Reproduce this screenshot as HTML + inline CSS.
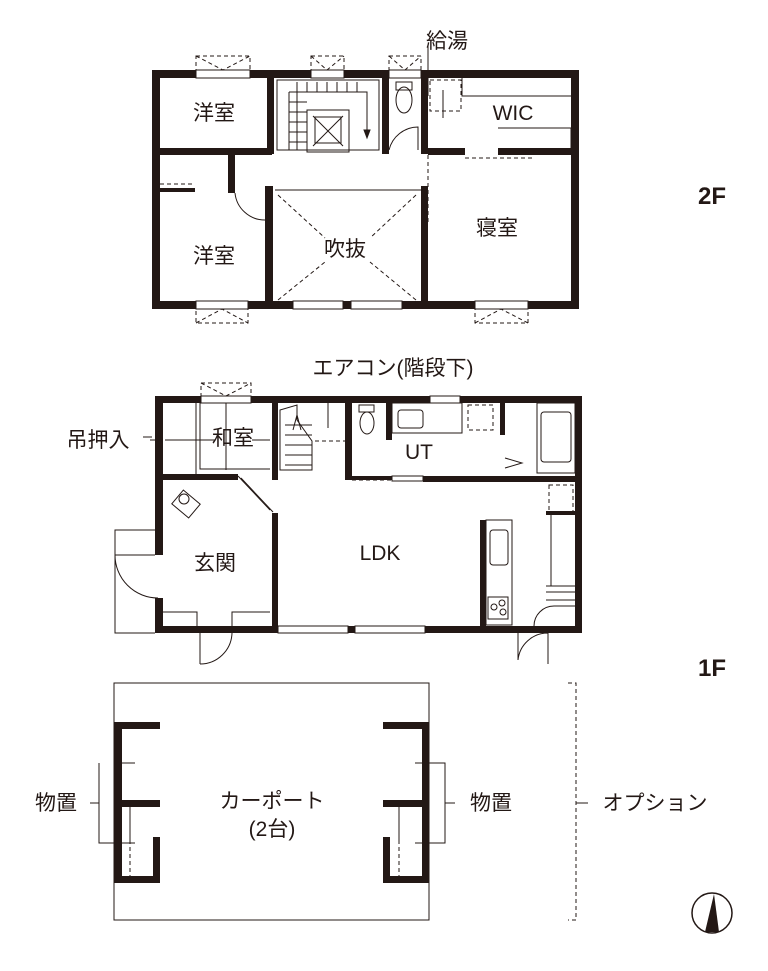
<!DOCTYPE html>
<html><head><meta charset="utf-8"><style>
html,body{margin:0;padding:0;background:#fff}
svg{display:block}
text{font-family:"Liberation Sans","Noto Sans CJK JP",sans-serif;fill:#231815}
</style></head><body>
<svg width="768" height="971" viewBox="0 0 768 971" xmlns="http://www.w3.org/2000/svg">
<g fill="#231815" stroke="none">
<rect x="152" y="70" width="427" height="8"/>
<rect x="152" y="70" width="8" height="239"/>
<rect x="571" y="70" width="8" height="239"/>
<rect x="152" y="301" width="427" height="8"/>
<rect x="267" y="70" width="7" height="84"/>
<rect x="382" y="70" width="7" height="84"/>
<rect x="421" y="70" width="7" height="84"/>
<rect x="152" y="148" width="120" height="7"/>
<rect x="228" y="150" width="7" height="43"/>
<rect x="160" y="188" width="35" height="4"/>
<rect x="265" y="186" width="8" height="120"/>
<rect x="421" y="186" width="7" height="120"/>
<rect x="428" y="148" width="37" height="7"/>
<rect x="498" y="148" width="81" height="7"/>
<rect x="155" y="396" width="427" height="7"/>
<rect x="155" y="396" width="8" height="159"/>
<rect x="155" y="598" width="8" height="35"/>
<rect x="575" y="396" width="7" height="237"/>
<rect x="155" y="626" width="427" height="7"/>
<rect x="155" y="474" width="83" height="6"/>
<rect x="272" y="396" width="6" height="84"/>
<rect x="272" y="513" width="6" height="120"/>
<rect x="345" y="396" width="7" height="84"/>
<rect x="386" y="396" width="6" height="44"/>
<rect x="345" y="476" width="47" height="4"/>
<rect x="423" y="476" width="159" height="6"/>
<rect x="500" y="400" width="5" height="35"/>
<rect x="546" y="511" width="29" height="4"/>
<rect x="480" y="520" width="6" height="110"/>
<rect x="114" y="722" width="8" height="161"/>
<rect x="114" y="722" width="46" height="7"/>
<rect x="114" y="800" width="46" height="7"/>
<rect x="114" y="876" width="46" height="7"/>
<rect x="153" y="837" width="7" height="46"/>
<rect x="422" y="722" width="7" height="161"/>
<rect x="383" y="722" width="46" height="7"/>
<rect x="383" y="800" width="46" height="7"/>
<rect x="383" y="876" width="46" height="7"/>
<rect x="383" y="837" width="7" height="46"/>
</g>
<g fill="#fff" stroke="#231815" stroke-width="1">
<rect x="196" y="70" width="54" height="8"/>
<rect x="311" y="70" width="33" height="8"/>
<rect x="389" y="70" width="32" height="8"/>
<rect x="196" y="301" width="52" height="8"/>
<rect x="293" y="301" width="50" height="8"/>
<rect x="351" y="301" width="51" height="8"/>
<rect x="475" y="301" width="53" height="8"/>
<rect x="201" y="396" width="50" height="7"/>
<rect x="430" y="396" width="30" height="7"/>
<rect x="278" y="626" width="70" height="7"/>
<rect x="355" y="626" width="70" height="7"/>
</g>
<g fill="none" stroke="#231815" stroke-width="1" stroke-dasharray="4,3">
<rect x="196" y="56" width="54" height="14"/>
<path d="M196 56L223 70L250 56"/>
<rect x="311" y="56" width="33" height="14"/>
<path d="M311 56L327 70L344 56"/>
<rect x="389" y="56" width="32" height="14"/>
<path d="M389 56L405 70L421 56"/>
<rect x="196" y="309" width="52" height="14"/>
<path d="M196 323L222 309L248 323"/>
<rect x="475" y="309" width="53" height="14"/>
<path d="M475 323L501 309L528 323"/>
<rect x="430" y="80" width="31" height="31"/>
<path d="M160 184H195M465 158H535M428 155V225"/>
<path d="M278 195L325 238M416 195L370 238M278 300L325 262M416 300L370 262"/>
<rect x="201" y="383" width="50" height="13"/>
<path d="M201 383L226 396L251 383"/>
<rect x="468" y="405" width="25" height="25"/>
<rect x="549" y="485" width="24" height="27"/>
<path d="M315 441H347M352 480H392M200 469H270"/>
<path d="M130 840V876M399 840V876"/>
</g>
<g fill="none" stroke="#231815" stroke-width="1">
<rect x="277" y="80" width="102" height="70"/>
<rect x="307" y="110" width="42" height="42"/>
<path d="M313 116L343 146M343 116L313 146"/>
<rect x="315" y="117" width="26" height="26"/>
<path d="M289 92H367V135M289 92V150M297 82V150"/>
<path d="M289 102H307M289 112H307M289 122H307M289 132H307M289 142H307"/>
<path d="M307 82V92M317 82V92M327 82V92M337 82V92M347 82V92M357 82V92"/>
<path d="M364 130L367 138L370 130Z" fill="#231815"/>
<path d="M275 190H421M273 98V150"/>
<ellipse cx="404" cy="100" rx="8" ry="13"/>
<rect x="396" y="82" width="16" height="8"/>
<path d="M389 150A30 30 0 0 1 418 127V150"/>
<path d="M462 78V96H571M498 128H571V148"/>
<path d="M443 90V118M428 45V96"/>
<path d="M235 193A30 30 0 0 0 265 220"/>
<path d="M163 440H150M165 440H215M196 403V474M200 403V469H270M197 440H185M252 440H270M226 403V470"/>
<path d="M280 410V470H312V441L297 420V405L280 410Z"/>
<path d="M285 425H312M285 435H312M285 445H312M285 455H312M285 465H312"/>
<path d="M293 430L297 415L301 430" />
<path d="M328 400V428"/>
<ellipse cx="367" cy="423" rx="7" ry="11"/>
<rect x="359" y="405" width="15" height="7"/>
<rect x="392" y="403" width="70" height="30"/>
<rect x="398" y="410" width="25" height="18" rx="3"/>
<rect x="537" y="403" width="38" height="70"/>
<rect x="541" y="412" width="30" height="50" rx="3"/>
<path d="M505 458L522 463L505 468"/>
<rect x="392" y="476" width="31" height="5"/>
<path d="M238 476L270 510"/>
<path d="M241 478L273 512"/>
<rect x="175" y="495" width="22" height="18" transform="rotate(40 186 504)"/>
<circle cx="184" cy="499" r="5"/>
<path d="M155 530H115V633H155M115 555H155"/>
<path d="M115 555A43 43 0 0 0 158 598"/>
<path d="M163 612H197V626M232 626V612H270"/>
<path d="M200 633V664M200 664A32 32 0 0 0 232 633"/>
<rect x="486" y="520" width="26" height="105"/>
<rect x="490" y="530" width="18" height="35" rx="3"/>
<rect x="488" y="597" width="20" height="22"/>
<circle cx="494" cy="607" r="3"/><circle cx="502" cy="603" r="3"/><circle cx="503" cy="612" r="3"/>
<path d="M481 520V590M551 515V586M546 586H575M546 592H575M546 600H575"/>
<path d="M534 626A20 20 0 0 1 554 606H575"/>
<path d="M518 633V660A30 30 0 0 1 548 633V664"/>
<rect x="114" y="683" width="315" height="237"/>
<path d="M122 763H135M122 843H135M130 807V840M99 763V843H122M99 803H90"/>
<path d="M415 763H445V843H415M415 843H445M399 807V840M445 803H455"/>
<path d="M568 683H576V920H568" stroke-dasharray="4,3"/>
<path d="M576 803H588"/>
<path d="M143 437H152"/>
<circle cx="712" cy="913" r="20" stroke-width="1.5"/>
</g>
<path d="M714 894L719 932H705Z" fill="#231815"/>
<g font-size="21">
<text x="214" y="120" text-anchor="middle">洋室</text>
<text x="214" y="263" text-anchor="middle">洋室</text>
<text x="345" y="256" text-anchor="middle">吹抜</text>
<text x="497" y="235" text-anchor="middle">寝室</text>
<text x="513" y="120" text-anchor="middle">WIC</text>
<text x="447" y="48" text-anchor="middle">給湯</text>
<text x="393" y="375" text-anchor="middle">エアコン(階段下)</text>
<text x="233" y="445" text-anchor="middle">和室</text>
<text x="98" y="447" text-anchor="middle">吊押入</text>
<text x="419" y="459" text-anchor="middle">UT</text>
<text x="215" y="570" text-anchor="middle">玄関</text>
<text x="380" y="560" text-anchor="middle">LDK</text>
<text x="56" y="810" text-anchor="middle">物置</text>
<text x="491" y="810" text-anchor="middle">物置</text>
<text x="272" y="808" text-anchor="middle">カーポート</text>
<text x="272" y="836" text-anchor="middle">(2台)</text>
<text x="655" y="810" text-anchor="middle">オプション</text>
</g>
<g font-size="24" font-weight="bold">
<text x="712" y="204" text-anchor="middle">2F</text>
<text x="712" y="676" text-anchor="middle">1F</text>
</g>
</svg>
</body></html>
